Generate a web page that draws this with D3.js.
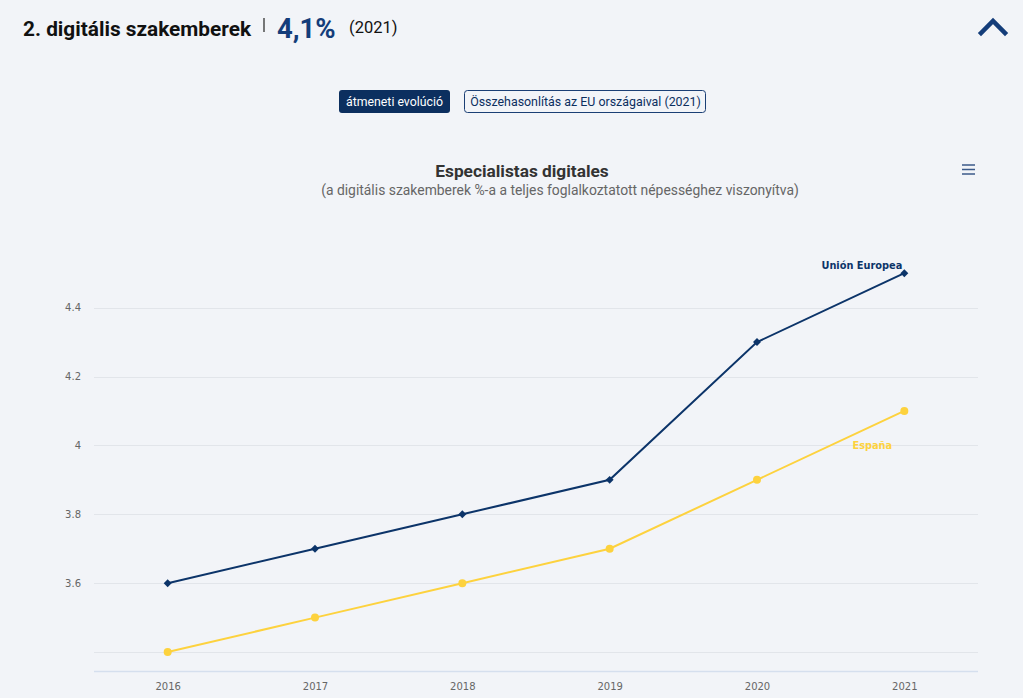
<!DOCTYPE html>
<html>
<head>
<meta charset="utf-8">
<script src="https://cdn.jsdelivr.net/npm/d3@7"></script>
<style>
  html, body { margin: 0; padding: 0; background: #f2f4f8; }
  svg { display: block; font-family: Roboto, "Noto Sans", sans-serif; }
</style>
</head>
<body>
<svg id="chart" width="1023" height="698"></svg>
<script>
const years = ["2016", "2017", "2018", "2019", "2020", "2021"];
const euValues = [3.6, 3.7, 3.8, 3.9, 4.3, 4.5];
const esValues = [3.4, 3.5, 3.6, 3.7, 3.9, 4.1];
const yTicks = [3.4, 3.6, 3.8, 4.0, 4.2, 4.4];
const seriesNames = ["Unión Europea", "España"];

const navy = "#0c3469";
const yellow = "#fdd23e";

const svg = d3.select("#chart");

// Header
const header = svg.append("g");
header.append("text").attr("x", 23).attr("y", 36)
  .attr("font-size", 20.8).attr("font-weight", 700).attr("fill", "#111")
  .text("2. digitális szakemberek");
header.append("line").attr("x1", 264).attr("x2", 264).attr("y1", 18).attr("y2", 32)
  .attr("stroke", "#222").attr("stroke-width", 1.2);
header.append("text").attr("x", 277).attr("y", 38)
  .attr("font-size", 27.5).attr("font-weight", 700).attr("fill", "#143d7a")
  .text("4,1%");
header.append("text").attr("x", 349).attr("y", 33)
  .attr("font-size", 16.5).attr("fill", "#111")
  .text("(2021)");
// chevron
header.append("path").attr("d", "M981,33 L993,21 L1005,33")
  .attr("fill", "none").attr("stroke", "#143d7a").attr("stroke-width", 4.5)
  .attr("stroke-linecap", "square");

// Buttons
const b1 = svg.append("g");
b1.append("rect").attr("x", 339).attr("y", 90).attr("width", 111).attr("height", 23)
  .attr("rx", 3).attr("fill", "#0c2f5f");
b1.append("text").attr("x", 394.5).attr("y", 106).attr("text-anchor", "middle")
  .attr("font-size", 12.3).attr("fill", "#fff").text("átmeneti evolúció");
const b2 = svg.append("g");
b2.append("rect").attr("x", 464.5).attr("y", 90.5).attr("width", 241).attr("height", 22)
  .attr("rx", 3).attr("fill", "none").attr("stroke", "#1b3f75").attr("stroke-width", 1);
b2.append("text").attr("x", 585.5).attr("y", 106).attr("text-anchor", "middle")
  .attr("font-size", 12.4).attr("fill", "#0c2f5f").text("Összehasonlítás az EU országaival (2021)");

// Titles
svg.append("text").attr("x", 522).attr("y", 177).attr("text-anchor", "middle")
  .attr("font-size", 17.3).attr("font-weight", 700).attr("fill", "#333")
  .text("Especialistas digitales");
svg.append("text").attr("x", 560).attr("y", 195).attr("text-anchor", "middle")
  .attr("font-size", 13.9).attr("fill", "#666")
  .text("(a digitális szakemberek %-a a teljes foglalkoztatott népességhez viszonyítva)");

// hamburger
[165, 169.5, 174].forEach(y => {
  svg.append("line").attr("x1", 962).attr("x2", 975).attr("y1", y).attr("y2", y)
    .attr("stroke", "#3b5a8a").attr("stroke-width", 1.5);
});

// Scales
const x = d3.scalePoint().domain(years).range([94, 978]).padding(0.5);
const y = d3.scaleLinear().domain([3.345, 4.6]).range([671, 238.75]);

// grid
const grid = svg.append("g");
yTicks.forEach(t => {
  grid.append("line").attr("x1", 94).attr("x2", 978)
    .attr("y1", Math.round(y(t)) + 0.5).attr("y2", Math.round(y(t)) + 0.5)
    .attr("stroke", "#e2e5ea").attr("stroke-width", 1);
});

// y labels
const yAxis = d3.axisLeft(y).tickValues(yTicks.filter(t => t > 3.5))
  .tickSize(0).tickPadding(0)
  .tickFormat(d => d3.format("~g")(d));
const ya = svg.append("g").attr("transform", "translate(81,0)").call(yAxis);
ya.select(".domain").remove();
ya.selectAll("text").attr("font-size", 10).attr("fill", "#666")
  .attr("font-family", "'DejaVu Sans', sans-serif").attr("dy", "0.32em");

// x axis
const xAxis = d3.axisBottom(x).tickSize(0).tickPadding(12);
const xa = svg.append("g").attr("transform", "translate(0,671)").call(xAxis);
xa.select(".domain").attr("stroke", "#d5dfee").attr("stroke-width", 1.5)
  .attr("d", "M94,0.5H978");
xa.selectAll("text").attr("font-size", 10).attr("fill", "#666")
  .attr("font-family", "'DejaVu Sans', sans-serif");

// lines
const line = d3.line().x((d, i) => x(years[i])).y(d => y(d));
svg.append("path").datum(esValues).attr("d", line)
  .attr("fill", "none").attr("stroke", yellow).attr("stroke-width", 2);
svg.append("path").datum(euValues).attr("d", line)
  .attr("fill", "none").attr("stroke", navy).attr("stroke-width", 2);

// markers
svg.append("g").selectAll("circle").data(esValues).join("circle")
  .attr("cx", (d, i) => x(years[i])).attr("cy", d => y(d)).attr("r", 4)
  .attr("fill", yellow);
const diamond = d3.symbol().type(d3.symbolDiamond2).size(40);
svg.append("g").selectAll("path").data(euValues).join("path")
  .attr("transform", (d, i) => `translate(${x(years[i])},${y(d)})`)
  .attr("d", diamond).attr("fill", navy);

// series labels
svg.append("text").attr("x", x(years[5]) - 2).attr("y", y(euValues[5]) - 4)
  .attr("text-anchor", "end").attr("font-size", 9.8).attr("font-weight", 700)
  .attr("font-family", "'DejaVu Sans', sans-serif")
  .attr("fill", navy).text(seriesNames[0]);
svg.append("text").attr("x", x(years[5]) - 32).attr("y", y(esValues[5]) + 38)
  .attr("text-anchor", "middle").attr("font-size", 9.8).attr("font-weight", 700)
  .attr("font-family", "'DejaVu Sans', sans-serif")
  .attr("fill", yellow).text(seriesNames[1]);
</script>
</body>
</html>
